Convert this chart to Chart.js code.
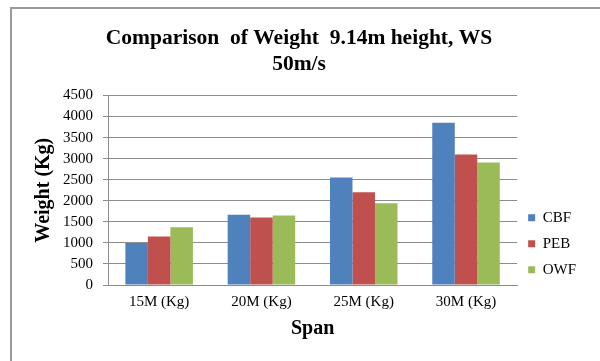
<!DOCTYPE html>
<html>
<head>
<meta charset="utf-8">
<script src="https://cdn.jsdelivr.net/npm/chart.js@4.4.1/dist/chart.umd.min.js"></script>
<style>
  html, body { margin: 0; padding: 0; background: #fff; }
  #wrap { width: 600px; height: 361px; }
</style>
</head>
<body>
<div id="wrap"><canvas id="grafico" width="600" height="361"></canvas></div>
<script>
// dados
const categorias = ["15M (Kg)", "20M (Kg)", "25M (Kg)", "30M (Kg)"];
const valoresCBF = [1000, 1670, 2550, 3850];
const valoresPEB = [1150, 1600, 2200, 3100];
const valoresOWF = [1370, 1650, 1940, 2910];
const ticksY = [0, 500, 1000, 1500, 2000, 2500, 3000, 3500, 4000, 4500];

const fonte = "'Liberation Serif', 'Times New Roman', serif";

// moldura cinza (só esquerda e topo aparecem no recorte)
const moldura = {
    id: "moldura",
    beforeDraw(chart) {
        const ctx = chart.ctx;
        ctx.save();
        ctx.strokeStyle = "#9a9a9a";
        ctx.lineWidth = 2;
        ctx.beginPath();
        ctx.moveTo(11, 361);
        ctx.lineTo(11, 8);
        ctx.lineTo(600, 8);
        ctx.stroke();
        ctx.restore();
    }
};

const contexto = document.getElementById("grafico").getContext("2d");
new Chart(contexto, {
    type: "bar",
    data: {
        labels: categorias,
        datasets: [
            { label: "CBF", data: valoresCBF, backgroundColor: "#4F81BD" },
            { label: "PEB", data: valoresPEB, backgroundColor: "#C0504D" },
            { label: "OWF", data: valoresOWF, backgroundColor: "#9BBB59" }
        ]
    },
    options: {
        responsive: false,
        animation: false,
        datasets: {
            bar: { barPercentage: 1, categoryPercentage: 0.66 }
        },
        layout: { padding: { left: 12, right: 14, top: 10, bottom: 20 } },
        plugins: {
            title: {
                display: true,
                text: ["Comparison  of Weight  9.14m height, WS", "50m/s"],
                color: "#000",
                font: { family: fonte, size: 21.5, weight: "bold", lineHeight: 1.22 },
                padding: { top: 15, bottom: 18 }
            },
            legend: {
                position: "right",
                title: { display: true, text: "", padding: { top: 122, bottom: 0 } },
                labels: {
                    color: "#000",
                    boxWidth: 7,
                    boxHeight: 7,
                    padding: 11,
                    font: { family: fonte, size: 15 }
                }
            },
            tooltip: { enabled: false }
        },
        scales: {
            x: {
                grid: { display: false, drawTicks: false },
                border: { display: true, color: "#8c8c8c" },
                ticks: { color: "#000", padding: 8, font: { family: fonte, size: 15 } },
                title: {
                    display: true,
                    text: "Span",
                    color: "#000",
                    font: { family: fonte, size: 20, weight: "bold" },
                    padding: { top: -2, bottom: 0 }
                }
            },
            y: {
                min: 0,
                max: 4500,
                afterBuildTicks(scale) {
                    scale.ticks = ticksY.map(v => ({ value: v }));
                },
                afterFit(scale) {
                    scale.width = 96;
                },
                grid: { color: "#8c8c8c", tickLength: 5 },
                border: { color: "#8c8c8c" },
                ticks: {
                    color: "#000",
                    padding: 10,
                    autoSkip: false,
                    font: { family: fonte, size: 15 },
                    callback: (v) => String(v)
                },
                title: {
                    display: true,
                    text: "Weight (Kg)",
                    color: "#000",
                    font: { family: fonte, size: 20, weight: "bold" },
                    padding: { top: 20, bottom: 0 }
                }
            }
        }
    },
    plugins: [moldura]
});
</script>
</body>
</html>
